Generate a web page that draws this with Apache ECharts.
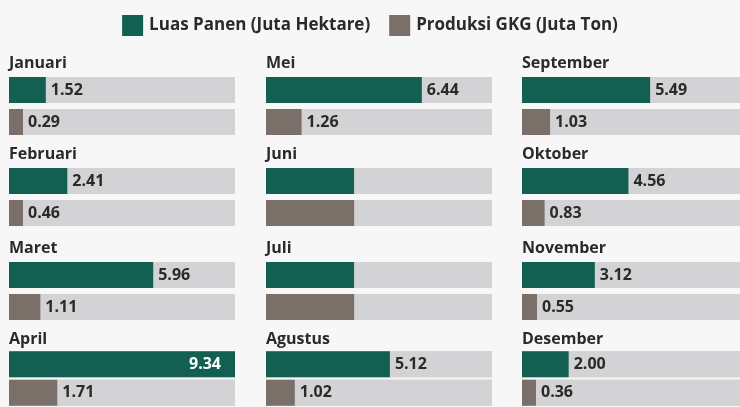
<!DOCTYPE html>
<html>
<head>
<meta charset="utf-8">
<script src="https://cdn.jsdelivr.net/npm/echarts@6/dist/echarts.min.js"></script>
<style>
html,body{margin:0;padding:0;background:#f7f7f7;}
#c{width:740px;height:407px;}
</style>
</head>
<body>
<div id="c"></div>
<script>
const months = ['Januari','Februari','Maret','April','Mei','Juni','Juli','Agustus','September','Oktober','November','Desember'];
const luasPanen = [1.52, 2.41, 5.96, 9.34, 6.44, 3.64, 3.64, 5.12, 5.49, 4.56, 3.12, 2.00];
const produksiGKG = [0.29, 0.46, 1.11, 1.71, 1.26, 3.12, 3.12, 1.02, 1.03, 0.83, 0.55, 0.36];
const showValue = [true, true, true, true, true, false, false, true, true, true, true, true];
const seriesNames = ['Luas Panen (Juta Hektare)', 'Produksi GKG (Juta Ton)'];

const FONT = '"Open Sans", Lato, sans-serif';
const GREEN = '#135f51';
const BROWN = '#7b6f6a';
const BG = '#d3d3d5';
const TXT = '#2a2a2a';
const colLeft = [9, 266, 522];
const rowTop = [74, 165, 259, 350];
const W = 226, H = 64;
const maxLuas = 9.34, maxProd = 8;

const chart = echarts.init(document.getElementById('c'), null, {renderer: 'canvas'});
const grid = [], xAxis = [], yAxis = [], series = [], title = [];

months.forEach((m, i) => {
  const col = Math.floor(i / 4), row = i % 4;
  grid.push({left: colLeft[col], top: rowTop[row], width: W, height: H, containLabel: false});
  xAxis.push({gridIndex: i, type: 'value', min: 0, max: maxLuas, show: false});
  xAxis.push({gridIndex: i, type: 'value', min: 0, max: maxProd, show: false});
  yAxis.push({gridIndex: i, type: 'category', data: ['L', 'P'], inverse: true, show: false});
  title.push({text: m, left: colLeft[col], top: rowTop[row] - 19, padding: 0,
    textStyle: {fontFamily: FONT, fontWeight: 'bold', fontSize: 16, color: TXT}});
  const full = luasPanen[i] >= maxLuas;
  const lbl = {fontFamily: FONT, fontWeight: 'bold', fontSize: 16, color: TXT};
  series.push({
    name: seriesNames[0], type: 'bar', xAxisIndex: 2 * i, yAxisIndex: i,
    barWidth: 26, barGap: '-100%', silent: true,
    showBackground: true, backgroundStyle: {color: BG},
    itemStyle: {color: GREEN},
    data: [{value: luasPanen[i], label: {show: showValue[i], position: full ? 'insideRight' : 'right',
      distance: full ? 14 : 5, color: full ? '#ffffff' : TXT}}, '-'],
    label: Object.assign({formatter: p => p.value.toFixed(2)}, lbl)
  });
  series.push({
    name: seriesNames[1], type: 'bar', xAxisIndex: 2 * i + 1, yAxisIndex: i,
    barWidth: 26, barGap: '-100%', barMinHeight: 14, silent: true,
    showBackground: true, backgroundStyle: {color: BG},
    itemStyle: {color: BROWN},
    data: ['-', {value: produksiGKG[i], label: {show: showValue[i], position: 'right', distance: 5}}],
    label: Object.assign({formatter: p => p.value.toFixed(2)}, lbl)
  });
});

chart.setOption({
  backgroundColor: '#f7f7f7',
  animation: false,
  color: [GREEN, BROWN],
  title: title,
  legend: {
    top: 10, left: 'center', icon: 'rect', itemWidth: 21, itemHeight: 21, itemGap: 19,
    selectedMode: false,
    data: seriesNames,
    textStyle: {fontFamily: FONT, fontWeight: 'bold', fontSize: 17, color: TXT, padding: [0, 0, 0, 1]}
  },
  grid: grid, xAxis: xAxis, yAxis: yAxis, series: series
});
</script>
</body>
</html>
